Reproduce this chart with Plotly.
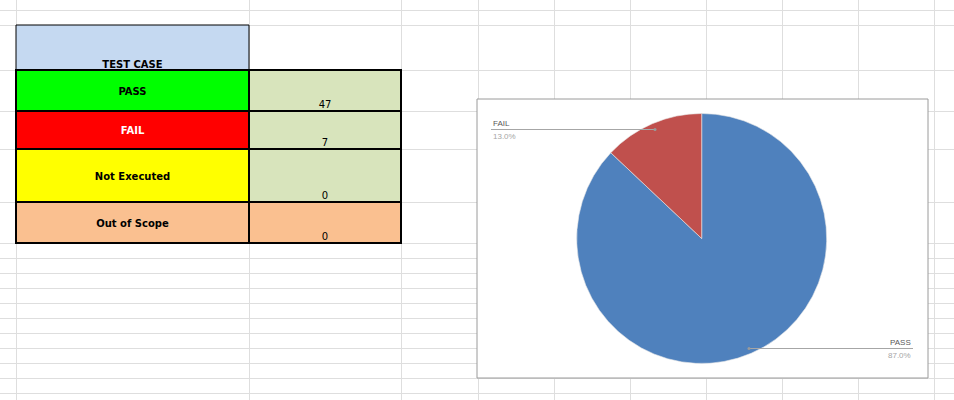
import plotly.graph_objects as go

# ---------------- data ----------------
categories = ["PASS", "FAIL", "Not Executed", "Out of Scope"]
counts = [47, 7, 0, 0]
header_label = "TEST CASE"
label_fills = ["#00FF00", "#FF0000", "#FFFF00", "#FAC090"]
value_fills = ["#D8E4BC", "#D8E4BC", "#D8E4BC", "#FAC090"]
label_text_colors = ["#000000", "#FFFFFF", "#000000", "#000000"]
pie_colors = ["#4F81BD", "#C0504D", "#9BBB59", "#8064A2"]

# ---------------- sheet layout (pixels) ----------------
W, H = 954, 400
grid_x = [16, 249, 401, 478, 554, 630, 706, 782, 858, 934]
grid_y = [10, 25, 70, 111, 149, 202, 243, 258, 273, 288, 303, 318, 333, 348, 363, 378, 393]
col_edges = [16, 249, 401]
header_top = 25
row_edges = [70, 111, 149, 202, 243]

fig = go.Figure()

shapes = []
# header cell
shapes.append(dict(type="rect", xref="x", yref="y", x0=col_edges[0], x1=col_edges[1],
                   y0=header_top, y1=row_edges[0], fillcolor="#C5D9F1",
                   line=dict(color="#000000", width=1), layer="between"))
for i in range(len(categories)):
    shapes.append(dict(type="rect", xref="x", yref="y", x0=col_edges[0], x1=col_edges[1],
                       y0=row_edges[i], y1=row_edges[i + 1], fillcolor=label_fills[i],
                       line=dict(color="#000000", width=2), layer="between"))
    shapes.append(dict(type="rect", xref="x", yref="y", x0=col_edges[1], x1=col_edges[2],
                       y0=row_edges[i], y1=row_edges[i + 1], fillcolor=value_fills[i],
                       line=dict(color="#000000", width=2), layer="between"))

# chart area box
box = dict(x0=477, x1=928, y0=99, y1=378)
shapes.append(dict(type="rect", xref="x", yref="y", **box, fillcolor="#FFFFFF",
                   line=dict(color="#9A9A9A", width=1), layer="between"))

# table text
label_x = (col_edges[0] + col_edges[1]) / 2
value_x = (col_edges[1] + col_edges[2]) / 2
fig.add_trace(go.Scatter(
    x=[label_x], y=[row_edges[0] - 5], mode="text", text=[f"<b>{header_label}</b>"],
    textfont=dict(family="DejaVu Sans", size=10, color="#000000"),
    hoverinfo="skip", showlegend=False))
for i, cat in enumerate(categories):
    fig.add_trace(go.Scatter(
        x=[label_x], y=[(row_edges[i] + row_edges[i + 1]) / 2 + 1.5], mode="text",
        text=[f"<b>{cat}</b>"],
        textfont=dict(family="DejaVu Sans", size=10, color=label_text_colors[i]),
        hoverinfo="skip", showlegend=False))
    fig.add_trace(go.Scatter(
        x=[value_x], y=[row_edges[i + 1] - 6], mode="text", text=[str(counts[i])],
        textfont=dict(family="DejaVu Sans", size=10, color="#000000"),
        hoverinfo="skip", showlegend=False))

# pie
cx, cy, r = 701.7, 238.5, 125
pie_labels = [c for c, v in zip(categories, counts) if v > 0]
pie_vals = [v for v in counts if v > 0]
pie_cols = [pie_colors[i] for i, v in enumerate(counts) if v > 0]
fig.add_trace(go.Pie(
    labels=pie_labels, values=pie_vals, sort=False, direction="clockwise", rotation=0,
    marker=dict(colors=pie_cols, line=dict(color="#E8E8E8", width=0.6)),
    textinfo="none", hoverinfo="label+value+percent", showlegend=False,
    domain=dict(x=[(cx - r) / W, (cx + r) / W], y=[1 - (cy + r) / H, 1 - (cy - r) / H])))

total = sum(counts)
pct = {c: f"{v / total * 100:.1f}%" for c, v in zip(categories, counts)}

annotations = []
leader_col = "#A6A6A6"
lbl_font = "Liberation Sans"
# FAIL label (left, top)
fl = dict(x0=491, x1=655, y=129.5)
shapes.append(dict(type="line", xref="x", yref="y", x0=fl["x0"], x1=fl["x1"], y0=fl["y"], y1=fl["y"],
                   line=dict(color=leader_col, width=1), layer="above"))
shapes.append(dict(type="circle", xref="x", yref="y", x0=fl["x1"] - 1.5, x1=fl["x1"] + 1.5,
                   y0=fl["y"] - 1.5, y1=fl["y"] + 1.5, fillcolor="#9A9A9A", line=dict(width=0),
                   layer="above"))
annotations.append(dict(x=fl["x0"], y=fl["y"] + 0.5, xref="x", yref="y", text="FAIL", showarrow=False,
                        xanchor="left", yanchor="bottom",
                        font=dict(family=lbl_font, size=8, color="#595959")))
annotations.append(dict(x=fl["x0"], y=fl["y"] + 0.5, xref="x", yref="y", text=pct["FAIL"], showarrow=False,
                        xanchor="left", yanchor="top",
                        font=dict(family=lbl_font, size=8, color="#A6A6A6")))
# PASS label (right, bottom)
pl = dict(x0=749, x1=913, y=348.5)
shapes.append(dict(type="line", xref="x", yref="y", x0=pl["x0"], x1=pl["x1"], y0=pl["y"], y1=pl["y"],
                   line=dict(color=leader_col, width=1), layer="above"))
shapes.append(dict(type="circle", xref="x", yref="y", x0=pl["x0"] - 1.5, x1=pl["x0"] + 1.5,
                   y0=pl["y"] - 1.5, y1=pl["y"] + 1.5, fillcolor="#9A9A9A", line=dict(width=0),
                   layer="above"))
annotations.append(dict(x=pl["x1"], y=pl["y"] + 0.5, xref="x", yref="y", text="PASS", showarrow=False,
                        xanchor="right", yanchor="bottom",
                        font=dict(family=lbl_font, size=8, color="#595959")))
annotations.append(dict(x=pl["x1"], y=pl["y"] + 0.5, xref="x", yref="y", text=pct["PASS"], showarrow=False,
                        xanchor="right", yanchor="top",
                        font=dict(family=lbl_font, size=8, color="#A6A6A6")))

fig.update_layout(
    width=W, height=H, margin=dict(l=0, r=0, t=0, b=0),
    paper_bgcolor="#FFFFFF", plot_bgcolor="#FFFFFF",
    xaxis=dict(range=[0, W], showgrid=True, tickvals=grid_x, gridcolor="#DEDEDE", gridwidth=1,
               showticklabels=False, zeroline=False, showline=False, ticks="", fixedrange=True),
    yaxis=dict(range=[H, 0], showgrid=True, tickvals=grid_y, gridcolor="#DEDEDE", gridwidth=1,
               showticklabels=False, zeroline=False, showline=False, ticks="", fixedrange=True),
    shapes=shapes, annotations=annotations, showlegend=False,
)

fig.write_html("out.html")
